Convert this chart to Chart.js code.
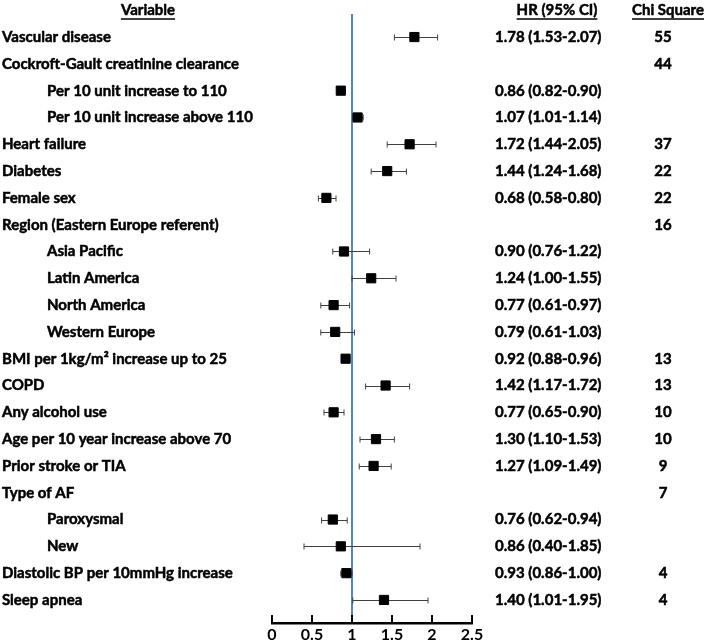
<!DOCTYPE html>
<html>
<head>
<meta charset="utf-8">
<script src="https://cdn.jsdelivr.net/npm/chart.js@4.4.1/dist/chart.umd.min.js"></script>
<style>
  html, body { margin: 0; padding: 0; background: #fff; }
  #wrap { width: 709px; height: 642px; position: relative; }
</style>
</head>
<body>
<div id="wrap"><canvas id="forest"></canvas></div>
<script>
const variables = [
  'Vascular disease',
  'Cockroft-Gault creatinine clearance',
  'Per 10 unit increase to 110',
  'Per 10 unit increase above 110',
  'Heart failure',
  'Diabetes',
  'Female sex',
  'Region (Eastern Europe referent)',
  'Asia Pacific',
  'Latin America',
  'North America',
  'Western Europe',
  'BMI per 1kg/m\u00B2 increase up to 25',
  'COPD',
  'Any alcohol use',
  'Age per 10 year increase above 70',
  'Prior stroke or TIA',
  'Type of AF',
  'Paroxysmal',
  'New',
  'Diastolic BP per 10mmHg increase',
  'Sleep apnea'
];
// sub-items of a grouped variable
const isSubItem = [false, false, true, true, false, false, false, false, true, true, true, true,
                   false, false, false, false, false, false, true, true, false, false];

const hr    = [1.78, null, 0.86, 1.07, 1.72, 1.44, 0.68, null, 0.90, 1.24, 0.77, 0.79, 0.92, 1.42, 0.77, 1.30, 1.27, null, 0.76, 0.86, 0.93, 1.40];
const lower = [1.53, null, 0.82, 1.01, 1.44, 1.24, 0.58, null, 0.76, 1.00, 0.61, 0.61, 0.88, 1.17, 0.65, 1.10, 1.09, null, 0.62, 0.40, 0.86, 1.01];
const upper = [2.07, null, 0.90, 1.14, 2.05, 1.68, 0.80, null, 1.22, 1.55, 0.97, 1.03, 0.96, 1.72, 0.90, 1.53, 1.49, null, 0.94, 1.85, 1.00, 1.95];
const chiSquare = ['55', '44', '', '', '37', '22', '22', '16', '', '', '', '', '13', '13', '10', '10', '9', '7', '', '', '4', '4'];

const xTicks = [0, 0.5, 1, 1.5, 2, 2.5];
const xTickLabels = ['0', '0.5', '1', '1.5', '2', '2.5'];
const referenceHR = 1;

const FONT = 'Lato, "Open Sans", sans-serif';
const BLUE = '#5585c0';

const points = [];
hr.forEach((v, i) => { if (v !== null) points.push({ x: v, y: i }); });

// draw text a touch heavier, the original uses a fat bold face
function boldText(ctx, text, x, y) {
  ctx.fillText(text, x, y);
  ctx.strokeText(text, x, y);
}

// whiskers + the line of no effect, drawn under the markers
const whiskerPlugin = {
  id: 'whiskers',
  beforeDatasetsDraw(chart) {
    const { ctx, chartArea, scales: { x, y } } = chart;
    ctx.save();
    ctx.strokeStyle = BLUE;
    ctx.lineWidth = 2;
    const xr = x.getPixelForValue(referenceHR);
    ctx.beginPath();
    ctx.moveTo(xr, chartArea.top);
    ctx.lineTo(xr, chartArea.bottom);
    ctx.stroke();

    ctx.strokeStyle = '#404040';
    ctx.lineWidth = 1;
    hr.forEach((v, i) => {
      if (v === null) return;
      const yp = Math.round(y.getPixelForValue(i)) + 0.5;
      const x1 = x.getPixelForValue(lower[i]);
      const x2 = x.getPixelForValue(upper[i]);
      ctx.beginPath();
      ctx.moveTo(x1, yp); ctx.lineTo(x2, yp);
      ctx.moveTo(x1, yp - 3); ctx.lineTo(x1, yp + 3);
      ctx.moveTo(x2, yp - 3); ctx.lineTo(x2, yp + 3);
      ctx.stroke();
    });
    ctx.restore();
  },
  afterDraw(chart) {
    const { ctx, chartArea, scales: { x, y } } = chart;
    ctx.save();
    // upward tick marks on the axis
    ctx.strokeStyle = '#000';
    ctx.lineWidth = 2;
    xTicks.forEach(t => {
      const xp = x.getPixelForValue(t);
      ctx.beginPath();
      ctx.moveTo(xp, chartArea.bottom - 8);
      ctx.lineTo(xp, chartArea.bottom);
      ctx.stroke();
    });

    ctx.fillStyle = '#000';
    ctx.strokeStyle = '#000';
    ctx.font = 'bold 15px ' + FONT;
    ctx.textBaseline = 'middle';

    // column headers
    const headY = 10;
    const headers = [
      { text: 'Variable', cx: 148 },
      { text: 'HR (95% CI)', cx: 557 },
      { text: 'Chi Square', cx: 668 }
    ];
    headers.forEach(h => {
      ctx.textAlign = 'center';
      ctx.lineWidth = 0.5;
      boldText(ctx, h.text, h.cx, headY);
      const w = ctx.measureText(h.text).width;
      ctx.lineWidth = 1.3;
      ctx.beginPath();
      ctx.moveTo(h.cx - w / 2, headY + 9);
      ctx.lineTo(h.cx + w / 2, headY + 9);
      ctx.stroke();
    });

    ctx.lineWidth = 0.5;
    variables.forEach((label, i) => {
      const yp = y.getPixelForValue(i);
      ctx.textAlign = 'left';
      boldText(ctx, label, isSubItem[i] ? 47 : 2, yp);
      if (hr[i] !== null) {
        boldText(ctx, hr[i].toFixed(2) + ' (' + lower[i].toFixed(2) + '-' + upper[i].toFixed(2) + ')', 495, yp);
      }
      if (chiSquare[i]) {
        ctx.textAlign = 'center';
        boldText(ctx, chiSquare[i], 663, yp);
      }
    });
    ctx.restore();
  }
};

new Chart(document.getElementById('forest'), {
  type: 'scatter',
  data: {
    datasets: [{
      data: points,
      pointStyle: 'rect',
      pointRadius: 6.5,
      pointHoverRadius: 6.5,
      backgroundColor: '#000',
      borderColor: '#000',
      borderWidth: 1
    }]
  },
  options: {
    responsive: true,
    maintainAspectRatio: false,
    animation: false,
    events: [],
    layout: { padding: { left: 272, right: 237, top: 14, bottom: 0 } },
    plugins: { legend: { display: false }, tooltip: { enabled: false } },
    scales: {
      x: {
        type: 'linear',
        min: 0,
        max: 2.5,
        afterBuildTicks: axis => { axis.ticks = xTicks.map(v => ({ value: v })); },
        afterFit: axis => { axis.height = 19; },
        grid: { display: false, drawTicks: false },
        border: { display: true, color: '#000', width: 2.5 },
        ticks: {
          padding: 2,
          color: '#000',
          font: { family: FONT, size: 16, weight: 'bold' },
          maxRotation: 0,
          callback: (v) => xTickLabels[xTicks.indexOf(v)]
        }
      },
      y: {
        type: 'linear',
        display: false,
        reverse: true,
        min: -0.86,
        max: variables.length - 1 + 0.86
      }
    }
  },
  plugins: [whiskerPlugin]
});
</script>
</body>
</html>
